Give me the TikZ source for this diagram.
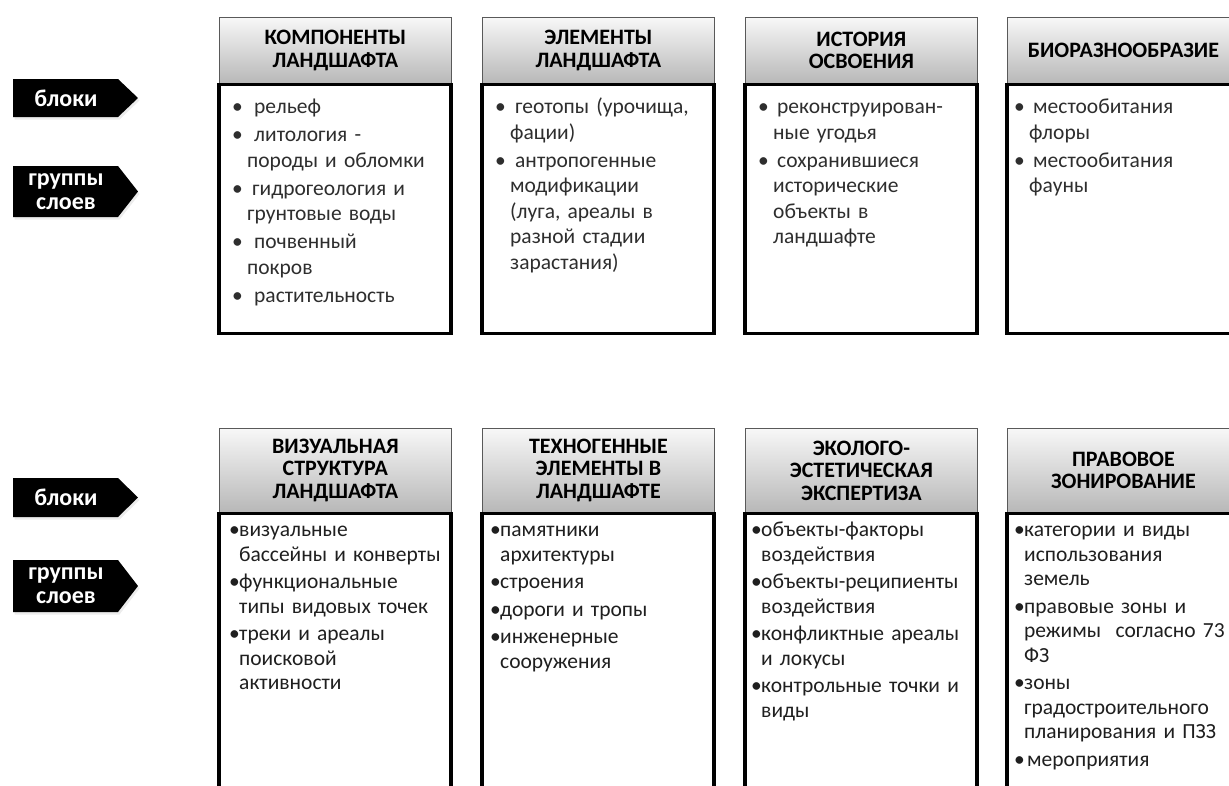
\documentclass[tikz,border=0pt]{standalone}
\usepackage{fontspec}
\setmainfont{Carlito}
\usetikzlibrary{positioning,shadows}

\newlength{\bulw}
\newlength{\itemgap}
\newcommand{\bul}[1]{\par\hangindent=\bulw\hangafter=1\noindent\makebox[\bulw][l]{\textbullet}#1\par\vspace{\itemgap}}
\newcommand{\hdrfont}{\fontsize{22}{22.5}\selectfont\bfseries}
\newcommand{\txtfont}{\fontsize{21.5}{25.5}\selectfont}
\newcommand{\txtfontB}{\fontsize{21.5}{24.5}\selectfont}
\newcommand{\tagfont}{\fontsize{24}{24}\selectfont\bfseries}

\begin{document}
\begin{tikzpicture}[x=1pt,y=-1pt,
    hdr/.style={draw=black!65, line width=0.8pt, top color=black!3, bottom color=black!28,
      anchor=north west, minimum width=232pt, align=center, inner sep=0pt, font=\hdrfont},
    body/.style={draw=black, line width=3.2pt, fill=white, minimum width=232pt,
      inner sep=0pt, outer sep=0pt},
    txt/.style={anchor=north west, inner sep=0pt, text width=240pt, align=left,
      font=\txtfont, text=black!82},
    txtB/.style={txt, font=\txtfontB, text=black!88},
    tagbg/.style={fill=black, drop shadow={shadow xshift=1.5pt, shadow yshift=-2.5pt, fill=black!15}},
    tag/.style={text=white, font=\tagfont, align=center, inner sep=0pt}]
  \useasboundingbox (0,0) rectangle (1229,785);
  \clip (0,0) rectangle (1229,785);

  % labels on the left
  \path[tagbg] (13,79) -- (118,79) -- (138,98) -- (118,117) -- (13,117) -- cycle;
  \node[tag] (blokiA) at (66,98) {блоки};
  \path[tagbg] (13,166) -- (118,166) -- (138,191.5) -- (118,217) -- (13,217) -- cycle;
  \node[tag] (gruppyA) at (66,191.5) {группы\\слоев};
  \path[tagbg] (13,478) -- (118,478) -- (138,497.5) -- (118,517) -- (13,517) -- cycle;
  \node[tag] (blokiB) at (66,497.5) {блоки};
  \path[tagbg] (13,560) -- (118,560) -- (138,586) -- (118,612) -- (13,612) -- cycle;
  \node[tag] (gruppyB) at (66,586) {группы\\слоев};

  % upper row
  \node[hdr, minimum height=66pt] (komp) at (219,17) {КОМПОНЕНТЫ\\ЛАНДШАФТА};
  \node[hdr, minimum height=66pt] (elem) at (482,17) {ЭЛЕМЕНТЫ\\ЛАНДШАФТА};
  \node[hdr, minimum height=66pt] (ist) at (745,17) {ИСТОРИЯ\\ОСВОЕНИЯ};
  \node[hdr, minimum height=66pt] (bio) at (1007,17) {БИОРАЗНООБРАЗИЕ};
  \node[body, minimum height=249pt, below=1pt of komp.south west, anchor=north west] (kompB) {};
  \node[body, minimum height=249pt, below=1pt of elem.south west, anchor=north west] (elemB) {};
  \node[body, minimum height=249pt, below=1pt of ist.south west, anchor=north west] (istB) {};
  \node[body, minimum height=249pt, below=1pt of bio.south west, anchor=north west] (bioB) {};

  \setlength{\bulw}{15pt}\setlength{\itemgap}{2.5pt}
  \node[txt] (kompT) at (232,88) {%
    \bul{\hspace{7pt}рельеф}
    \bul{\hspace{7pt}литология -\newline породы и обломки}
    \bul{\hspace{5pt}гидрогеология и\newline грунтовые воды}
    \bul{\hspace{7pt}почвенный\newline покров}
    \bul{\hspace{7pt}растительность}};
  \node[txt] (elemT) at (495,88) {%
    \bul{\hspace{5pt}геотопы (урочища,\newline фации)}
    \bul{\hspace{5pt}антропогенные\newline модификации\newline (луга, ареалы в\newline разной стадии\newline зарастания)}};
  \node[txt] (istT) at (758,88) {%
    \bul{\hspace{4pt}реконструирован-\newline ные угодья}
    \bul{\hspace{4pt}сохранившиеся\newline исторические\newline объекты в\newline ландшафте}};
  \node[txt] (bioT) at (1014,88) {%
    \bul{\hspace{4pt}местообитания\newline флоры}
    \bul{\hspace{4pt}местообитания\newline фауны}};

  % lower row
  \node[hdr, minimum height=84pt] (viz) at (219,428) {ВИЗУАЛЬНАЯ\\СТРУКТУРА\\ЛАНДШАФТА};
  \node[hdr, minimum height=84pt] (tech) at (482,428) {ТЕХНОГЕННЫЕ\\ЭЛЕМЕНТЫ В\\ЛАНДШАФТЕ};
  \node[hdr, minimum height=84pt] (eko) at (745,428) {ЭКОЛОГО-\\ЭСТЕТИЧЕСКАЯ\\ЭКСПЕРТИЗА};
  \node[hdr, minimum height=84pt] (prav) at (1007,428) {ПРАВОВОЕ\\ЗОНИРОВАНИЕ};
  \node[body, minimum height=300pt, below=1pt of viz.south west, anchor=north west] (vizB) {};
  \node[body, minimum height=300pt, below=1pt of tech.south west, anchor=north west] (techB) {};
  \node[body, minimum height=300pt, below=1pt of eko.south west, anchor=north west] (ekoB) {};
  \node[body, minimum height=300pt, below=1pt of prav.south west, anchor=north west] (pravB) {};

  \setlength{\bulw}{10pt}\setlength{\itemgap}{3pt}
  \node[txtB] (vizT) at (229,512) {%
    \bul{визуальные\newline бассейны и конверты}
    \bul{функциональные\newline типы видовых точек}
    \bul{треки и ареалы\newline поисковой\newline активности}};
  \node[txtB] (techT) at (490,512) {%
    \bul{памятники\newline архитектуры}
    \bul{строения}
    \bul{дороги и тропы}
    \bul{инженерные\newline сооружения}};
  \node[txtB] (ekoT) at (751,512) {%
    \bul{объекты-факторы\newline воздействия}
    \bul{объекты-реципиенты\newline воздействия}
    \bul{конфликтные ареалы\newline и локусы}
    \bul{контрольные точки и\newline виды}};
  \node[txtB] (pravT) at (1014,512) {%
    \bul{категории и виды\newline использования\newline земель}
    \bul{правовые зоны и\newline режимы\ \ согласно 73\newline ФЗ}
    \bul{зоны\newline градостроительного\newline планирования и ПЗЗ}
    \bul{\hspace{3pt}мероприятия}};
\end{tikzpicture}
\end{document}
